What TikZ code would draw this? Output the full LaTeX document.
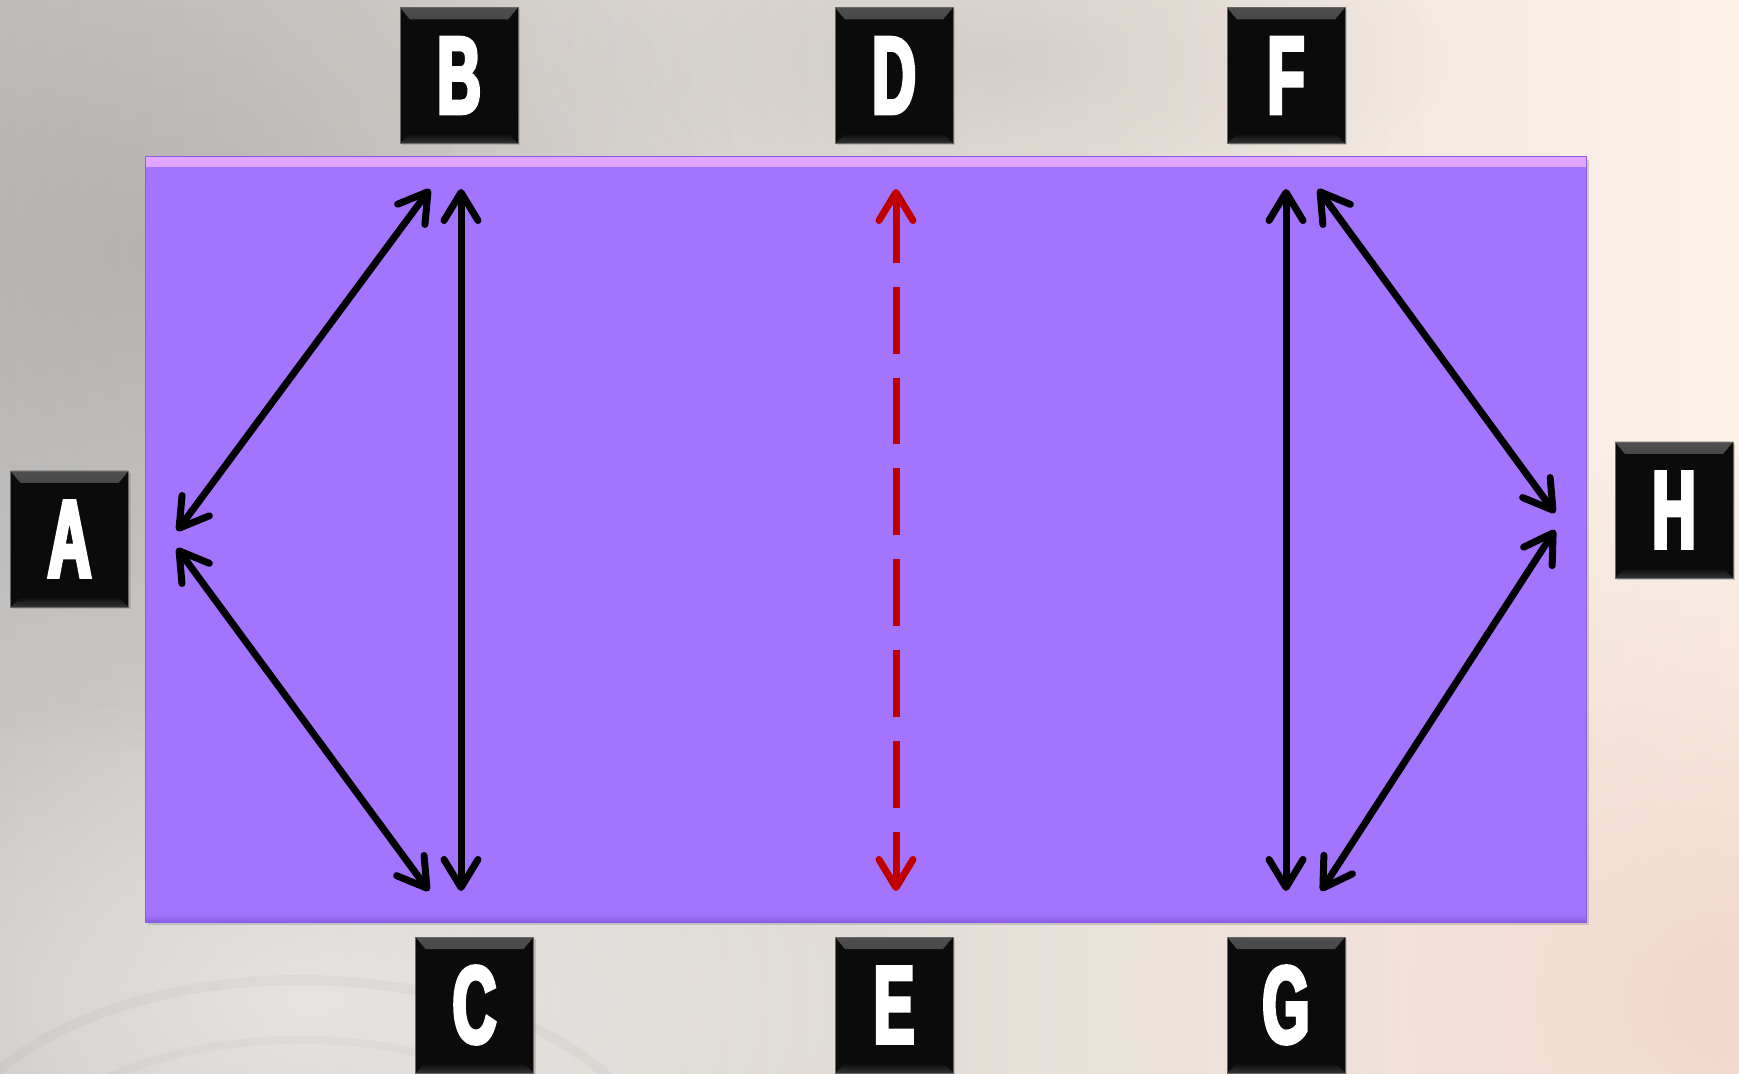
\documentclass[tikz,border=0pt]{standalone}
\usepackage{fontspec}
\usetikzlibrary{arrows.meta,shadows,fadings}
\newfontfamily\tagfont[FakeStretch=0.55,FakeBold=3.5]{Liberation Sans}

\definecolor{bgleft}{HTML}{C8C6C4}
\definecolor{bgmid}{HTML}{E0DBD8}
\definecolor{bgright}{HTML}{FCF2E8}
\definecolor{camdark}{HTML}{8A8886}
\definecolor{warmtint}{HTML}{F0D4C9}
\definecolor{panelfill}{HTML}{A374FE}
\definecolor{paneltop}{HTML}{E2A6FF}
\definecolor{panelbottom}{HTML}{8A5DE4}
\definecolor{tagblack}{HTML}{0B0B0B}
\definecolor{tagedge}{HTML}{4E4E4E}
\definecolor{tagbottom}{HTML}{333333}
\definecolor{dashred}{HTML}{C00000}

\tikzfading[name=softspot, inner color=transparent!0, outer color=transparent!100]

\tikzset{
  tag/.style={fill=tagblack, draw=black!60, line width=0.4pt,
    minimum width=59pt, minimum height=68pt, inner sep=0pt, text=white,
    font=\tagfont\bfseries\fontsize{55}{55}\selectfont,
    drop shadow={shadow xshift=1pt, shadow yshift=-1pt, opacity=0.35},
    path picture={
      \fill[top color=tagedge, bottom color=tagblack]
        (path picture bounding box.north west) -- (path picture bounding box.north east)
        -- ([shift={(-5pt,-6pt)}]path picture bounding box.north east)
        -- ([shift={(5pt,-6pt)}]path picture bounding box.north west) -- cycle;
      \fill[top color=tagblack, bottom color=tagbottom]
        (path picture bounding box.south west) -- (path picture bounding box.south east)
        -- ([shift={(-5pt,5pt)}]path picture bounding box.south east)
        -- ([shift={(5pt,5pt)}]path picture bounding box.south west) -- cycle;
    }},
  panel/.style={fill=panelfill, draw=panelbottom, line width=0.5pt,
    minimum width=720.5pt, minimum height=382.5pt, inner sep=0pt,
    drop shadow={shadow xshift=1.5pt, shadow yshift=-1.5pt, opacity=0.3},
    path picture={
      \fill[top color=paneltop, bottom color=panelfill, middle color=paneltop!50!panelfill]
        (path picture bounding box.north west) rectangle ([yshift=-5pt]path picture bounding box.north east);
      \fill[top color=panelfill, bottom color=panelbottom]
        ([yshift=4pt]path picture bounding box.south west) rectangle (path picture bounding box.south east);
    }},
  link/.style={line width=3.5pt, line cap=round,
    {Straight Barb[length=14pt,width=17pt,round]}-{Straight Barb[length=14pt,width=17pt,round]}},
  redlink/.style={link, draw=dashred, line cap=butt, dash pattern=on 33.4pt off 12pt},
  haze/.style={path fading=softspot}
}

\begin{document}
\begin{tikzpicture}[x=0.5pt,y=-0.5pt]
  \useasboundingbox (0,0) rectangle (1739,1074);

  % backdrop: soft, faded photo tones
  \shade[left color=bgleft, middle color=bgmid, right color=bgright] (0,0) rectangle (1739,1074);
  \fill[camdark, opacity=0.35, haze] (150,250) ellipse [x radius=600, y radius=500];
  \fill[camdark, opacity=0.2, haze] (1000,60) ellipse [x radius=450, y radius=180];
  \fill[white, opacity=0.45, haze] (300,1000) ellipse [x radius=600, y radius=320];
  \fill[warmtint, opacity=0.9, haze] (1739,1000) ellipse [x radius=600, y radius=560];
  \draw[camdark, opacity=0.08, line width=5pt] (300,1180) ellipse [x radius=360, y radius=200];
  \draw[camdark, opacity=0.06, line width=4pt] (300,1190) ellipse [x radius=290, y radius=150];

  % central board
  \node[panel] (board) at (865.5,539.5) {};

  % letter tags
  \node[tag] (A) at (69.5,539)  {A};
  \node[tag] (B) at (459,75.5)  {B};
  \node[tag] (C) at (474.5,1005) {C};
  \node[tag] (D) at (894,75.5)  {D};
  \node[tag] (E) at (894,1005)  {E};
  \node[tag] (F) at (1286,75.5) {F};
  \node[tag] (G) at (1286,1005) {G};
  \node[tag] (H) at (1674,510)  {H};

  % arrow ends inside the board
  \coordinate (A-B) at (177,531);
  \coordinate (B-A) at (430,189);
  \coordinate (A-C) at (177,548);
  \coordinate (C-A) at (429,891);
  \coordinate (B-C) at (461,189);
  \coordinate (C-B) at (461,891);
  \coordinate (D-E) at (896,189);
  \coordinate (E-D) at (896,891);
  \coordinate (F-G) at (1286,189);
  \coordinate (G-F) at (1286,891);
  \coordinate (F-H) at (1318,189);
  \coordinate (H-F) at (1555,513);
  \coordinate (G-H) at (1321,891);
  \coordinate (H-G) at (1555,530);

  % connectors
  \draw[link] (A-B) -- (B-A);
  \draw[link] (A-C) -- (C-A);
  \draw[link] (B-C) -- (C-B);
  \draw[redlink] (D-E) -- (E-D);
  \draw[link] (F-G) -- (G-F);
  \draw[link] (F-H) -- (H-F);
  \draw[link] (G-H) -- (H-G);
\end{tikzpicture}
\end{document}
